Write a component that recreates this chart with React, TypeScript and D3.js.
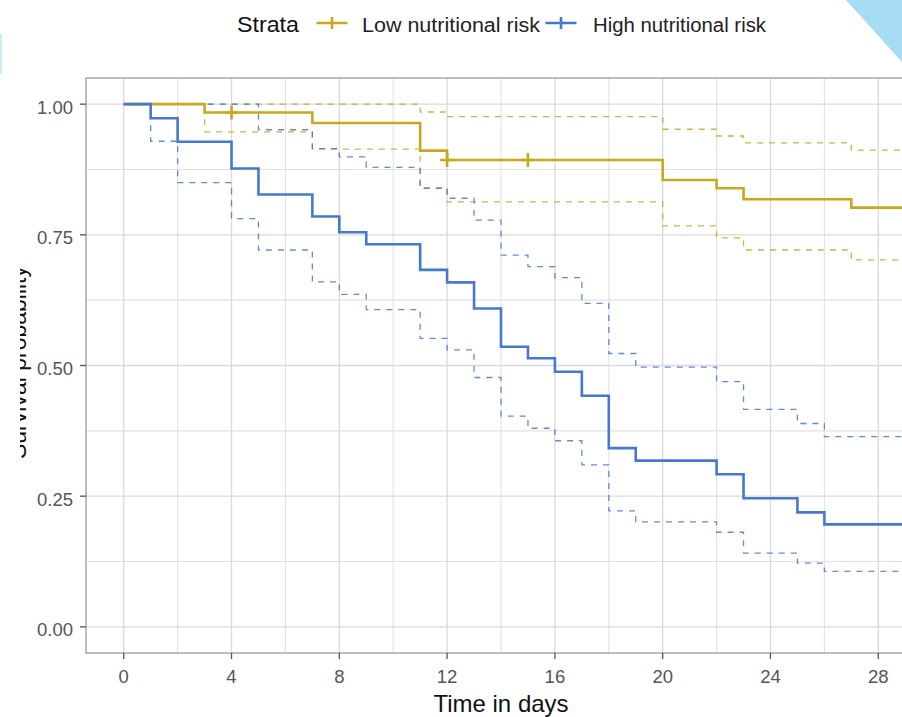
import React from "react";
import * as d3 from "d3";

// ---------- data ----------
const END_TIME = 30;

const lowTimes = [0, 3, 7, 11, 12, 20, 22, 23, 27];
const lowSurv = [1, 0.984, 0.964, 0.911, 0.893, 0.855, 0.839, 0.818, 0.802];
const lowUpper = [1, 1, 1, 0.985, 0.976, 0.952, 0.939, 0.926, 0.912];
const lowLower = [1, 0.947, 0.914, 0.84, 0.813, 0.767, 0.744, 0.721, 0.702];
const lowCensorTimes = [4, 12, 15];

const highTimes = [0, 1, 2, 4, 5, 7, 8, 9, 11, 12, 13, 14, 15, 16, 17, 18, 19, 22, 23, 25, 26];
const highSurv = [1, 0.973, 0.928, 0.877, 0.827, 0.785, 0.755, 0.732, 0.683, 0.659, 0.609, 0.536, 0.514, 0.488, 0.442, 0.342, 0.318, 0.292, 0.246, 0.219, 0.196];
const highUpper = [1, 1, 1, 1, 0.951, 0.915, 0.899, 0.879, 0.839, 0.82, 0.778, 0.711, 0.689, 0.668, 0.619, 0.523, 0.497, 0.469, 0.416, 0.389, 0.364];
const highLower = [1, 0.929, 0.85, 0.781, 0.721, 0.66, 0.636, 0.607, 0.552, 0.53, 0.477, 0.403, 0.38, 0.356, 0.31, 0.222, 0.201, 0.181, 0.141, 0.122, 0.106];
const highCensorTimes: number[] = [];

const strataNames = ["Low nutritional risk", "High nutritional risk"];
const xTicks = [0, 4, 8, 12, 16, 20, 24, 28];
const xMinor = [2, 6, 10, 14, 18, 22, 26];
const yTicks = [0, 0.25, 0.5, 0.75, 1];
const yMinor = [0.125, 0.375, 0.625, 0.875];
const xTitle = "Time in days";
const yTitle = "Survival probability";
const legendTitle = "Strata";

// ---------- styles ----------
const W = 902;
const H = 717;
const FONT = "'Liberation Sans', Arial, Helvetica, sans-serif";
const YELLOW = "#C9A71E";
const BLUE = "#4579CF";
const colors = [YELLOW, BLUE];

const panel = { left: 86, right: 916, top: 78, bottom: 653 };

type Series = { times: number[]; surv: number[]; upper: number[]; lower: number[]; censor: number[] };
const series: Series[] = [
  { times: lowTimes, surv: lowSurv, upper: lowUpper, lower: lowLower, censor: lowCensorTimes },
  { times: highTimes, surv: highSurv, upper: highUpper, lower: highLower, censor: highCensorTimes },
];

function stepPoints(times: number[], vals: number[]): [number, number][] {
  const pts: [number, number][] = times.map((t, i) => [t, vals[i]]);
  pts.push([END_TIME, vals[vals.length - 1]]);
  return pts;
}

function valueAt(times: number[], vals: number[], t: number) {
  let v = vals[0];
  for (let i = 0; i < times.length; i++) if (times[i] <= t) v = vals[i];
  return v;
}

export default function App() {
  const x = d3.scaleLinear().domain([-1.4, 29.4]).range([panel.left, panel.right]);
  const y = d3.scaleLinear().domain([-0.05, 1.05]).range([panel.bottom, panel.top]);
  const line = d3
    .line<[number, number]>()
    .x((d) => x(d[0]))
    .y((d) => y(d[1]))
    .curve(d3.curveStepAfter);

  const plusPath = (cx: number, cy: number, hw: number, hh: number) =>
    `M${cx - hw},${cy}H${cx + hw}M${cx},${cy - hh}V${cy + hh}`;

  const yMid = (panel.top + panel.bottom) / 2 - 3;

  return (
    <svg
      width={W}
      height={H}
      style={{ position: "absolute", left: 0, top: 0, background: "#fff" }}
      fontFamily={FONT}
    >
      <defs>
        <clipPath id="panelClip">
          <rect x={panel.left} y={panel.top} width={panel.right - panel.left} height={panel.bottom - panel.top} />
        </clipPath>
        <clipPath id="ylabClip">
          <rect x={20} y={0} width={60} height={H} />
        </clipPath>
      </defs>
      <rect x={0} y={0} width={W} height={H} fill="#fff" />

      {/* grid */}
      <g clipPath="url(#panelClip)">
        {xMinor.map((t) => (
          <line key={"xm" + t} x1={x(t)} x2={x(t)} y1={panel.top} y2={panel.bottom} stroke="#E2E2E2" strokeWidth={1.1} />
        ))}
        {yMinor.map((v) => (
          <line key={"ym" + v} x1={panel.left} x2={panel.right} y1={y(v)} y2={y(v)} stroke="#E2E2E2" strokeWidth={1.1} />
        ))}
        {xTicks.map((t) => (
          <line key={"xg" + t} x1={x(t)} x2={x(t)} y1={panel.top} y2={panel.bottom} stroke="#DADADA" strokeWidth={1.3} />
        ))}
        {yTicks.map((v) => (
          <line key={"yg" + v} x1={panel.left} x2={panel.right} y1={y(v)} y2={y(v)} stroke="#DADADA" strokeWidth={1.3} />
        ))}

        {/* confidence intervals */}
        {series.map((s, i) => (
          <g key={"ci" + i} fill="none" stroke={colors[i]} strokeWidth={1.3} strokeDasharray="6,6" opacity={0.85}>
            <path d={line(stepPoints(s.times, s.upper)) || ""} />
            <path d={line(stepPoints(s.times, s.lower)) || ""} />
          </g>
        ))}
        {/* survival curves */}
        {series.map((s, i) => (
          <path key={"sv" + i} d={line(stepPoints(s.times, s.surv)) || ""} fill="none" stroke={colors[i]} strokeWidth={2.6} />
        ))}
        {/* censor marks */}
        {series.map((s, i) =>
          s.censor.map((t) => (
            <path
              key={"c" + i + "-" + t}
              d={plusPath(x(t), y(valueAt(s.times, s.surv, t)), 7, 7)}
              stroke={colors[i]}
              strokeWidth={2.6}
              fill="none"
            />
          ))
        )}
      </g>

      {/* panel border */}
      <rect
        x={panel.left}
        y={panel.top}
        width={panel.right - panel.left}
        height={panel.bottom - panel.top}
        fill="none"
        stroke="#9A9A9A"
        strokeWidth={1.3}
      />

      {/* y axis */}
      {yTicks.map((v) => (
        <g key={"yt" + v}>
          <line x1={panel.left - 6} x2={panel.left} y1={y(v)} y2={y(v)} stroke="#555" strokeWidth={1.3} />
          <text x={73} y={y(v) + 9.5} textAnchor="end" fontSize={18.5} fill="#555">
            {d3.format(".2f")(v)}
          </text>
        </g>
      ))}
      {/* x axis */}
      {xTicks.map((t) => (
        <g key={"xt" + t}>
          <line x1={x(t)} x2={x(t)} y1={panel.bottom} y2={panel.bottom + 6} stroke="#555" strokeWidth={1.3} />
          <text x={x(t)} y={683} textAnchor="middle" fontSize={18.5} fill="#555">
            {t}
          </text>
        </g>
      ))}
      <text x={(x(0) + x(28)) / 2 + 0} y={711.5} textAnchor="middle" fontSize={24} fill="#111">
        {xTitle}
      </text>
      <g clipPath="url(#ylabClip)">
        <text
          transform={`translate(26,${yMid}) rotate(-90)`}
          textAnchor="middle"
          fontSize={23}
          fill="#111"
        >
          {yTitle}
        </text>
      </g>

      {/* legend */}
      <text x={237} y={31.5} fontSize={22} fill="#111" textLength={62} lengthAdjust="spacingAndGlyphs">
        {legendTitle}
      </text>
      <path d={plusPath(332, 23, 15.5, 6)} stroke={YELLOW} strokeWidth={2.6} fill="none" />
      <text x={362} y={31.5} fontSize={19.5} fill="#222" textLength={178} lengthAdjust="spacingAndGlyphs">
        {strataNames[0]}
      </text>
      <path d={plusPath(561, 23, 15.5, 6)} stroke={BLUE} strokeWidth={2.6} fill="none" />
      <text x={593} y={31.5} fontSize={19.5} fill="#222" textLength={173} lengthAdjust="spacingAndGlyphs">
        {strataNames[1]}
      </text>

      {/* decorative corner artifacts from the photographed original */}
      <polygon points="846,0 902,0 902,62" fill="#A6DCF4" />
      <rect x={0} y={34} width={2} height={40} fill="#CFE9F7" />
    </svg>
  );
}
